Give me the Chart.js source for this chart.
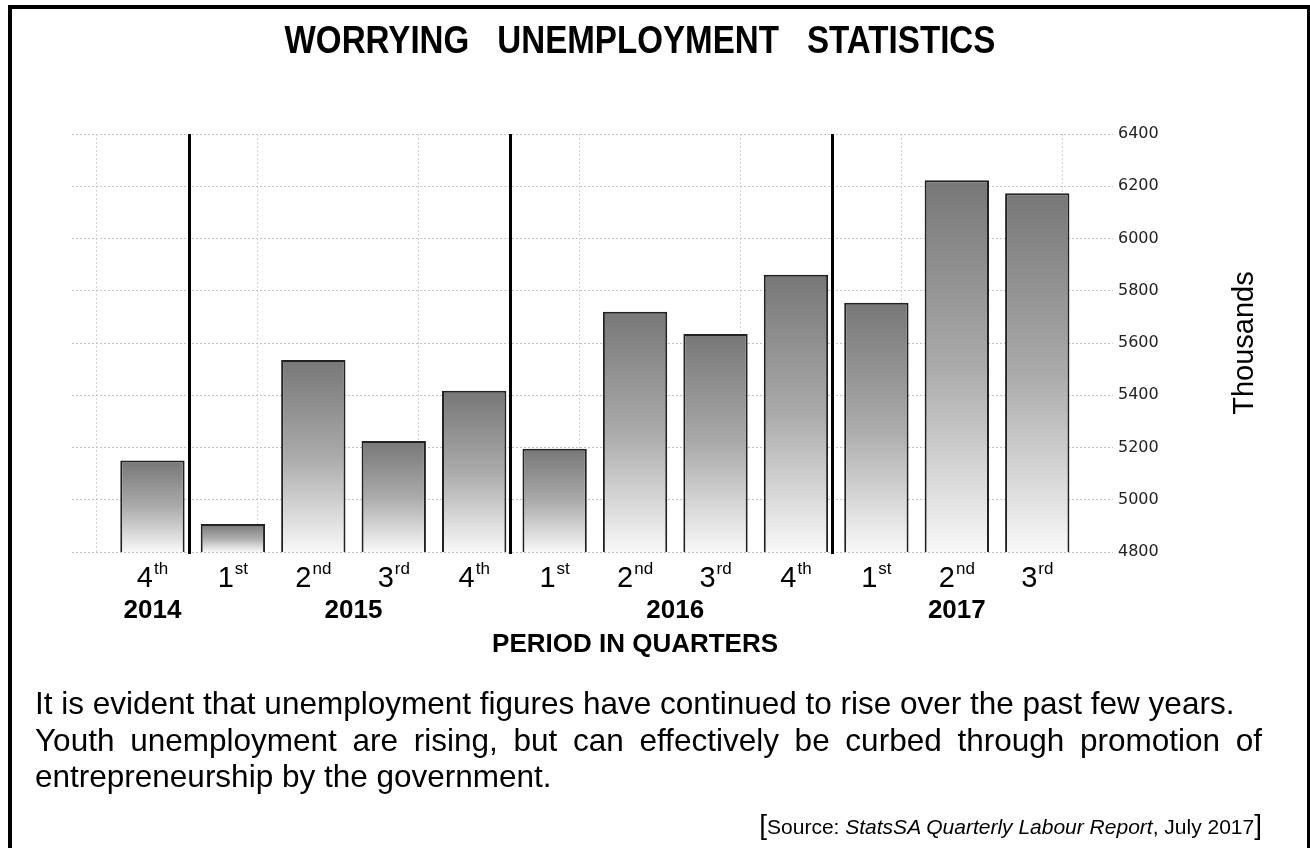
<!DOCTYPE html>
<html>
<head>
<meta charset="utf-8">
<title>Worrying unemployment statistics</title>
<script src="https://cdn.jsdelivr.net/npm/chart.js@4.4.1/dist/chart.umd.min.js"></script>
<style>
  html, body { margin: 0; padding: 0; background: #fff; }
  #page { position: relative; width: 1310px; height: 848px; overflow: hidden; font-family: "Liberation Sans", Arial, sans-serif; color: #000; }
  #frame { position: absolute; left: 8px; top: 5px; width: 1295px; height: 900px; border-style: solid; border-color: #000; border-width: 4px 3px 0 4px; }
  #chart { position: absolute; left: 0; top: 0; }
  #title { position: absolute; left: 0; top: 20px; width: 1280px; text-align: center; font-weight: bold; font-size: 39px; line-height: 39px; word-spacing: 22px; transform: scaleX(0.85); transform-origin: 640px 0; }
  .para { position: absolute; left: 35px; width: 1227px; font-size: 31.5px; line-height: 36.5px; white-space: nowrap; }
  #l1 { top: 685px; }
  #l2 { top: 721.5px; text-align: justify; text-align-last: justify; white-space: normal; }
  #l3 { top: 758px; }
  #source { position: absolute; right: 48px; top: 808px; font-size: 21px; line-height: 34px; white-space: nowrap; }
  #source .br { font-size: 28px; }
</style>
</head>
<body>
<div id="page">
  <div id="frame"></div>
  <canvas id="chart" width="1310" height="848"></canvas>
  <div id="title">WORRYING UNEMPLOYMENT STATISTICS</div>
  <div class="para" id="l1">It is evident that unemployment figures have continued to rise over the past few years.</div>
  <div class="para" id="l2">Youth unemployment are rising, but can effectively be curbed through promotion of</div>
  <div class="para" id="l3">entrepreneurship by the government.</div>
  <div id="source"><span class="br">[</span>Source: <i>StatsSA Quarterly Labour Report</i>, July 2017<span class="br">]</span></div>
</div>
<script>
// quarters shown under each bar
const quarters = ['4', '1', '2', '3', '4', '1', '2', '3', '4', '1', '2', '3'];
const suffixes = ['th', 'st', 'nd', 'rd', 'th', 'st', 'nd', 'rd', 'th', 'st', 'nd', 'rd'];
const years = ['2014', '2015', '2015', '2015', '2015', '2016', '2016', '2016', '2016', '2017', '2017', '2017'];
// unemployed, thousands
const unemployed = [5150, 4907, 5535, 5225, 5417, 5195, 5720, 5634, 5861, 5754, 6223, 6173];
const yMin = 4800, yMax = 6400, yStep = 200;

const FONT = '"Liberation Sans", Arial, sans-serif';

function barFill(context) {
    const chart = context.chart;
    const area = chart.chartArea;
    if (!area || context.type !== 'data') return '#999';
    const top = chart.scales.y.getPixelForValue(context.raw.y);
    const g = chart.ctx.createLinearGradient(0, top, 0, area.bottom);
    g.addColorStop(0, '#777777');
    g.addColorStop(0.5, '#aaaaaa');
    g.addColorStop(1, '#f8f8f8');
    return g;
}

// year separators, quarter labels with superscripts, year labels, axis titles
const decorations = {
    id: 'decorations',
    afterDatasetsDraw(chart) {
        const {ctx, chartArea, scales: {x}} = chart;
        ctx.save();
        ctx.strokeStyle = '#000';
        ctx.lineWidth = 3;
        for (let i = 1; i < years.length; i++) {
            if (years[i] !== years[i - 1]) {
                const px = Math.round(x.getPixelForValue(i - 0.55)) + 0.5;
                ctx.beginPath();
                ctx.moveTo(px, chartArea.top);
                ctx.lineTo(px, chartArea.bottom + 2);
                ctx.stroke();
            }
        }
        ctx.restore();
    },
    afterDraw(chart) {
        const {ctx, chartArea, scales: {x}} = chart;
        const base = chartArea.bottom;
        ctx.save();
        ctx.fillStyle = '#000';
        ctx.textBaseline = 'alphabetic';

        quarters.forEach((q, i) => {
            const cx = x.getPixelForValue(i);
            ctx.font = '29px ' + FONT;
            const w1 = ctx.measureText(q).width;
            ctx.font = '17px ' + FONT;
            const w2 = ctx.measureText(suffixes[i]).width;
            const left = cx - (w1 + w2 + 1) / 2;
            ctx.textAlign = 'left';
            ctx.font = '29px ' + FONT;
            ctx.fillText(q, left, base + 35);
            ctx.font = '17px ' + FONT;
            ctx.fillText(suffixes[i], left + w1 + 1, base + 22);
        });

        // one label per year, centred on its quarters
        ctx.font = 'bold 26px ' + FONT;
        ctx.textAlign = 'center';
        const seen = [];
        years.forEach(y => { if (!seen.includes(y)) seen.push(y); });
        seen.forEach(y => {
            const first = years.indexOf(y);
            const last = years.lastIndexOf(y);
            ctx.fillText(y, x.getPixelForValue((first + last) / 2), base + 66);
        });

        ctx.font = 'bold 26px ' + FONT;
        ctx.fillText('PERIOD IN QUARTERS', x.getPixelForValue(6), base + 100);

        ctx.translate(chart.width - 65, (chartArea.top + chartArea.bottom) / 2);
        ctx.rotate(-Math.PI / 2);
        ctx.font = '29px ' + FONT;
        ctx.textBaseline = 'middle';
        ctx.fillText('Thousands', 0, 0);
        ctx.restore();
    }
};

new Chart(document.getElementById('chart'), {
    type: 'bar',
    data: {
        datasets: [{
            label: 'Unemployed (thousands)',
            data: unemployed.map((v, i) => ({x: i, y: v})),
            backgroundColor: barFill,
            borderColor: '#222',
            borderWidth: 2,
            barPercentage: 0.8,
            categoryPercentage: 1
        }]
    },
    options: {
        responsive: false,
        animation: false,
        layout: {padding: {left: 72, top: 134, right: 152, bottom: 296}},
        plugins: {legend: {display: false}, tooltip: {enabled: false}, title: {display: false}},
        scales: {
            x: {type: 'linear', min: -1.0, max: 11.78, offset: false, grid: {offset: false}, display: false},
            xg: {
                type: 'linear', axis: 'x', position: 'bottom',
                min: -0.155, max: 6.235, offset: false,
                ticks: {display: false, stepSize: 1, includeBounds: false},
                grid: {color: '#d4d4d4', drawTicks: false, offset: false},
                border: {display: false, dash: [2, 2]}
            },
            y: {
                position: 'right',
                min: yMin, max: yMax,
                ticks: {
                    stepSize: yStep,
                    padding: 5,
                    color: '#222',
                    font: {family: '"DejaVu Sans", sans-serif', size: 16},
                    callback: v => String(v)
                },
                grid: {color: '#c4c4c4', tickLength: 13, tickColor: '#c4c4c4', tickBorderDash: [2, 2]},
                border: {display: false, dash: [2, 2]},
                afterFit(scale) { scale.width = 58; }
            }
        }
    },
    plugins: [decorations]
});
</script>
</body>
</html>
